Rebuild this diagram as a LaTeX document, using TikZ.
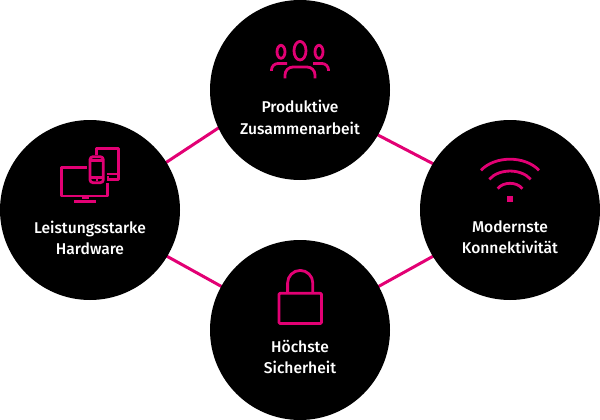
\documentclass[tikz,border=0pt]{standalone}
\usepackage{fontspec}
\setmainfont{Fira Sans Medium}
\usetikzlibrary{backgrounds}
\definecolor{magenta}{HTML}{E20074}
\begin{document}
\begin{tikzpicture}[x=1pt,y=-1pt,
topics/.style={circle,fill=black,minimum size=180pt,inner sep=0pt},
labels/.style={text=white,align=center,font=\fontsize{15.6}{21}\selectfont},
links/.style={draw=magenta,line width=3pt,shorten <=-2pt,shorten >=-2pt},
icons/.style={draw=magenta,line width=2.8pt,line join=round}]
\useasboundingbox (0,0) rectangle (600,420);
\node[topics] (top) at (300,90) {};
\node[topics] (left) at (90,210) {};
\node[topics] (right) at (510,210) {};
\node[topics] (bottom) at (300,330) {};
\node[labels] (toplabel) at (300,117.4) {Produktive\\Zusammenarbeit};
\node[labels] (leftlabel) at (90,237.4) {Leistungsstarke\\Hardware};
\node[labels] (rightlabel) at (510,237.4) {Modernste\\Konnektivität};
\node[labels] (bottomlabel) at (300,357.4) {Höchste\\Sicherheit};
\begin{scope}[on background layer]
\draw[links] (left.32) -- (top.205);
\draw[links] (top.330) -- (right.149);
\draw[links] (left.329) -- (bottom.151);
\draw[links] (bottom.29) -- (right.211);
\end{scope}
% people
\draw[icons] (300,50.7) ellipse (6 and 9.3);
\draw[icons] (281,51.8) ellipse (4 and 6.5);
\draw[icons] (319,51.8) ellipse (4 and 6.5);
\draw[icons] (285,78.5) -- (285,75) .. controls (285,70.5) and (288.5,67) .. (293,67) -- (307,67) .. controls (311.5,67) and (315,70.5) .. (315,75) -- (315,78.5);
\draw[icons] (271.5,71) -- (271.5,70) .. controls (271.5,66.5) and (274.5,63.5) .. (278,63.5) -- (287,63.5);
\draw[icons] (328.5,71) -- (328.5,70) .. controls (328.5,66.5) and (325.5,63.5) .. (322,63.5) -- (313,63.5);
% devices
\draw[icons] (86.7,167.3) -- (61.7,167.3) -- (61.7,196) -- (107.7,196) -- (107.7,182.7);
\fill[magenta] (82.3,196) rectangle (89,198.7);
\draw[icons] (74,201.7) -- (96,201.7);
\draw[icons] (96.7,155) -- (96.7,148.3) -- (118.3,148.3) -- (118.3,179.3) -- (107.3,179.3);
\draw[icons] (107.3,174) -- (118.3,174);
\fill[magenta] (106.7,176) rectangle (108.7,178);
\draw[icons,rounded corners=3pt] (90,156.7) rectangle (103.3,182.7);
\draw[icons] (90,160.5) -- (103.3,160.5);
\draw[icons] (90,177.3) -- (103.3,177.3);
\fill[magenta] (95.9,179) rectangle (97.7,180.8);
% wifi
\draw[icons] (481,170.3) .. controls (495,155.5) and (525,155.5) .. (539,170.3);
\draw[icons] (489.3,179.3) .. controls (499,168.3) and (521,168.3) .. (530.7,179.3);
\draw[icons] (497.7,188.7) .. controls (503,181.5) and (517,181.5) .. (522.3,188.7);
\fill[magenta] (507.2,196) rectangle (513,201.8);
% lock
\draw[icons,rounded corners=1pt] (279,293.3) rectangle (321.5,323.5);
\draw[icons] (287.6,292) -- (287.6,283) arc[start angle=180,end angle=360,radius=12.6] -- (312.8,292);
\end{tikzpicture}
\end{document}
